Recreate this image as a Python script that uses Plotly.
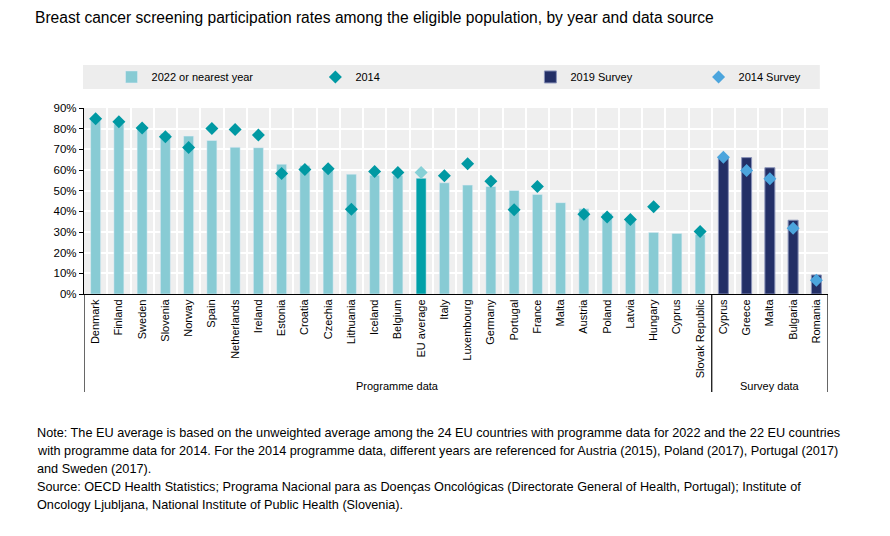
import plotly.graph_objects as go

title = "Breast cancer screening participation rates among the eligible population, by year and data source"

prog_countries = ["Denmark", "Finland", "Sweden", "Slovenia", "Norway", "Spain", "Netherlands",
                  "Ireland", "Estonia", "Croatia", "Czechia", "Lithuania", "Iceland", "Belgium",
                  "EU average", "Italy", "Luxembourg", "Germany", "Portugal", "France", "Malta",
                  "Austria", "Poland", "Latvia", "Hungary", "Cyprus", "Slovak Republic"]
prog_2022 = [84.3, 82.2, 80.8, 77.7, 76.4, 74.3, 71.0, 70.8, 62.8, 62.2, 61.0, 58.0, 57.5, 57.3,
             56.0, 53.8, 52.7, 52.0, 50.1, 48.2, 44.2, 41.2, 39.0, 35.5, 29.8, 29.3, 28.8]
prog_2014 = [84.8, 83.3, 80.3, 76.1, 70.9, 80.1, 79.6, 76.9, 58.3, 60.2, 60.6, 41.0, 59.3, 58.8,
             58.8, 57.2, 63.0, 54.6, 40.8, 52.0, None, 38.6, 37.3, 36.0, 42.2, None, 30.2]

survey_countries = ["Cyprus", "Greece", "Malta", "Bulgaria", "Romania"]
survey_2019 = [66.0, 66.0, 61.1, 35.7, 9.2]
survey_2014 = [66.2, 59.8, 55.8, 31.8, 6.6]

note_lines = [
    "Note: The EU average is based on the unweighted average among the 24 EU countries with programme data for 2022 and the 22 EU countries",
    "with programme data for 2014. For the 2014 programme data, different years are referenced for Austria (2015), Poland (2017), Portugal (2017)",
    "and Sweden (2017).",
    "Source: OECD Health Statistics; Programa Nacional para as Doenças Oncológicas (Directorate General of Health, Portugal); Institute of",
    "Oncology Ljubljana, National Institute of Public Health (Slovenia).",
]

FONT = "Liberation Sans, Arial, sans-serif"
LIGHT = "#88cbd4"
TEAL = "#00a0a8"
DIAMOND = "#0099a3"
NAVY = "#232f66"
SKY = "#4ca5dd"

labels = prog_countries + survey_countries
xs = list(range(len(labels)))
eu_i = prog_countries.index("EU average")
px_ = [i for i in range(len(prog_countries)) if i != eu_i]
sx = [len(prog_countries) + i for i in range(len(survey_countries))]
bw = 0.43

fig = go.Figure()
fig.add_trace(go.Bar(x=px_, y=[prog_2022[i] for i in px_], width=bw, marker_color=LIGHT,
                     name="2022 or nearest year", legend="legend"))
fig.add_trace(go.Bar(x=[eu_i], y=[prog_2022[eu_i]], width=bw, marker_color=TEAL, showlegend=False))
fig.add_trace(go.Bar(x=sx, y=survey_2019, width=bw, marker=dict(color=NAVY, line=dict(color="#8a93b8", width=1)),
                     name="2019 Survey", legend="legend3"))
fig.add_trace(go.Scatter(x=px_, y=[prog_2014[i] for i in px_], mode="markers",
                         marker=dict(symbol="diamond", size=10, color=DIAMOND),
                         name="2014", legend="legend2"))
fig.add_trace(go.Scatter(x=[eu_i], y=[prog_2014[eu_i]], mode="markers",
                         marker=dict(symbol="diamond", size=10, color="#86d0d6"), showlegend=False))
fig.add_trace(go.Scatter(x=sx, y=survey_2014, mode="markers",
                         marker=dict(symbol="diamond", size=10, color=SKY),
                         name="2014 Survey", legend="legend4"))

def leg(xpos):
    return dict(x=xpos, y=1.167, xanchor="left", yanchor="middle", orientation="h",
                bgcolor="rgba(0,0,0,0)", font=dict(size=11, color="#000"), itemwidth=30)

n_prog = len(prog_countries)
split = n_prog - 0.5
last = len(labels) - 0.5

# page has an 8px body margin, margins below compensate for it
annots = [
    dict(text="Programme data", x=(split - 0.5) / 2, y=-0.495, xref="x", yref="paper",
         yanchor="middle", showarrow=False, font=dict(size=11)),
    dict(text="Survey data", x=(split + last) / 2, y=-0.495, xref="x", yref="paper",
         yanchor="middle", showarrow=False, font=dict(size=11)),
]
for k, line in enumerate(note_lines):
    annots.append(dict(text=line, x=(35 - 84) / 744, y=(294 - 433 - 18 * k) / 186, xref="paper", yref="paper",
                       xanchor="left", yanchor="middle", align="left", showarrow=False,
                       font=dict(size=12.7, color="#000")))

fig.update_layout(
    width=890, height=536,
    margin=dict(l=76, r=70, t=100, b=250),
    paper_bgcolor="white", plot_bgcolor="#efefef",
    font=dict(family=FONT, size=11, color="#000"),
    barmode="overlay",
    title=dict(text=title, x=27 / 890, xanchor="left", y=1 - 10 / 536, yanchor="middle",
               font=dict(size=15.6, color="#000")),
    legend=leg(0.037), legend2=leg(0.311), legend3=leg(0.600), legend4=leg(0.826),
    xaxis=dict(range=[-0.5, last], tickmode="array", tickvals=xs, ticktext=labels, tickangle=-90,
               showgrid=False, showline=True, linecolor="#000", linewidth=1.2, ticks="",
               minor=dict(tick0=0.5, dtick=1, showgrid=True, gridcolor="white", gridwidth=1.5),
               zeroline=False, tickfont=dict(size=11)),
    yaxis=dict(range=[0, 90], dtick=10, ticksuffix="%", gridcolor="white", gridwidth=1.5,
               showline=True, linecolor="#000", linewidth=1.2, ticks="outside", ticklen=4,
               tickcolor="#000", zeroline=False, tickfont=dict(size=11.5)),
    shapes=[
        dict(type="rect", xref="paper", yref="paper", x0=-0.0013, x1=0.989, y0=1.102, y1=1.231,
             fillcolor="#ededed", line=dict(width=0), layer="below"),
        dict(type="line", xref="x", yref="paper", x0=-0.5, x1=-0.5, y0=0, y1=-0.527,
             line=dict(color="#000", width=1.2)),
        dict(type="line", xref="x", yref="paper", x0=split, x1=split, y0=0, y1=-0.527,
             line=dict(color="#000", width=1.2)),
        dict(type="line", xref="x", yref="paper", x0=last, x1=last, y0=0, y1=-0.527,
             line=dict(color="#000", width=1.2)),
    ],
    annotations=annots,
)

fig.write_html("out.html")
